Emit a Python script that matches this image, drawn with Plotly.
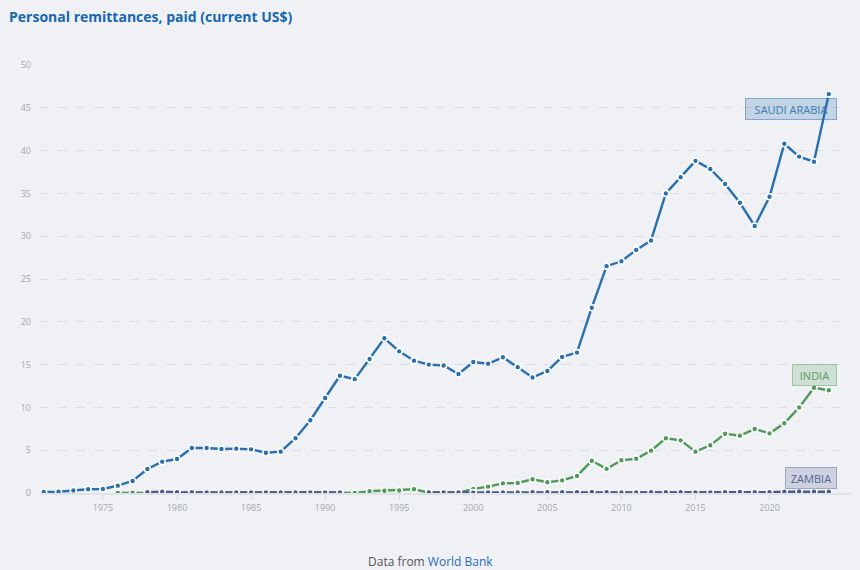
import plotly.graph_objects as go

# values in billions of current US$
years = list(range(1971, 2025))

saudi_arabia = [0.12, 0.15, 0.3, 0.43, 0.47, 0.86, 1.4, 2.8, 3.66, 3.97,
                5.26, 5.26, 5.14, 5.18, 5.1, 4.7, 4.83, 6.4, 8.5, 11.1,
                13.7, 13.3, 15.65, 18.07, 16.55, 15.46, 15.0, 14.9, 13.9, 15.3,
                15.1, 15.85, 14.7, 13.5, 14.25, 15.9, 16.4, 21.65, 26.5, 27.07,
                28.4, 29.5, 35.0, 36.9, 38.8, 37.85, 36.1, 33.9, 31.2, 34.6,
                40.8, 39.3, 38.7, 46.6]

india = [None, None, None, None, None, 0.02, 0.03, 0.05, 0.05, 0.05,
         0.04, 0.04, 0.04, 0.05, 0.06, 0.06, 0.07, 0.08, 0.08, 0.06,
         0.07, 0.0, 0.2, 0.27, 0.3, 0.43, 0.05, 0.0, 0.0, 0.47,
         0.74, 1.13, 1.17, 1.6, 1.25, 1.48, 2.0, 3.76, 2.82, 3.82,
         4.0, 4.95, 6.39, 6.15, 4.83, 5.57, 6.93, 6.7, 7.48, 6.97,
         8.14, 10.0, 12.3, 12.0]

zambia = [None, None, None, None, None, None, None, 0.08, 0.15, 0.1,
          0.08, 0.06, 0.06, 0.06, 0.06, 0.06, 0.06, 0.06, 0.06, 0.06,
          0.05, None, None, None, None, None, 0.05, 0.05, 0.05, 0.04,
          0.05, 0.06, 0.07, 0.08, 0.09, 0.1, 0.1, 0.12, 0.08, 0.07,
          0.07, 0.08, 0.08, 0.08, 0.07, 0.07, 0.1, 0.12, 0.1, 0.09,
          0.15, 0.17, 0.16, 0.15]

x_ticks = [1975, 1980, 1985, 1990, 1995, 2000, 2005, 2010, 2015, 2020]
y_ticks = [0, 5, 10, 15, 20, 25, 30, 35, 40, 45, 50]

# name, values, line colour, label text colour, label fill, label border, label y, label width
series = [
    ("SAUDI ARABIA", saudi_arabia, "#2a6fae", "#3b7bb4",
     "rgba(42,111,174,0.22)", "rgba(42,111,174,0.5)", 44.86, 84),
    ("INDIA", india, "#4f9a58", "#5a9f62",
     "rgba(79,154,88,0.2)", "rgba(79,154,88,0.45)", 13.73, 37),
    ("ZAMBIA", zambia, "#4c5a8c", "#56638f",
     "rgba(76,90,140,0.2)", "rgba(76,90,140,0.45)", 1.75, 44),
]

bg = "#eff1f5"

fig = go.Figure()
for name, vals, col, tcol, fill, bcol, label_y, w in series:
    fig.add_trace(go.Scatter(
        x=years, y=vals, name=name, mode="lines+markers",
        line=dict(color=col, width=2.4),
        marker=dict(color=col, size=6, line=dict(color="white", width=1.6)),
        connectgaps=False,
    ))
    fig.add_annotation(
        x=2024.53, y=label_y, xref="x", yref="y", text=name,
        showarrow=False, xanchor="right", yanchor="middle",
        width=w, height=14, align="center",
        font=dict(family="Open Sans", size=11, color=tcol),
        bgcolor=fill, bordercolor=bcol, borderwidth=1, borderpad=3,
    )

fig.add_annotation(
    x=0.481, y=-0.161, xref="paper", yref="paper",
    text="Data from <span style='color:#1f6fb5'>World Bank</span>",
    showarrow=False, xanchor="center", yanchor="middle",
    font=dict(family="Open Sans", size=12, color="#555555"),
)

fig.update_layout(
    width=860, height=570,
    margin=dict(l=40, r=9, t=65, b=77),
    paper_bgcolor=bg, plot_bgcolor=bg,
    showlegend=False,
    title=dict(
        text="<b>Personal remittances, paid (current US$)</b>",
        x=0.0105, xanchor="left", y=0.970, yanchor="middle",
        font=dict(family="Open Sans", size=14, color="#1666b0"),
    ),
    xaxis=dict(
        range=[1970.75, 2025.5], tickvals=x_ticks,
        showgrid=False, zeroline=False,
        showline=True, linecolor="#dfe2e7", linewidth=2,
        ticks="outside", ticklen=5, tickcolor="#d6d9de",
        tickfont=dict(family="Open Sans", size=9, color="#a5a8ad"),
    ),
    yaxis=dict(
        range=[0, 50], tickvals=y_ticks,
        showgrid=True, gridcolor="#dcdee3", griddash="dash", gridwidth=1,
        zeroline=False, showline=False,
        ticks="", ticklabelstandoff=8,
        tickfont=dict(family="Open Sans", size=9, color="#a5a8ad"),
    ),
)

fig.write_html("out.html", config={"displayModeBar": False},
               post_script="document.body.style.margin='0';")
